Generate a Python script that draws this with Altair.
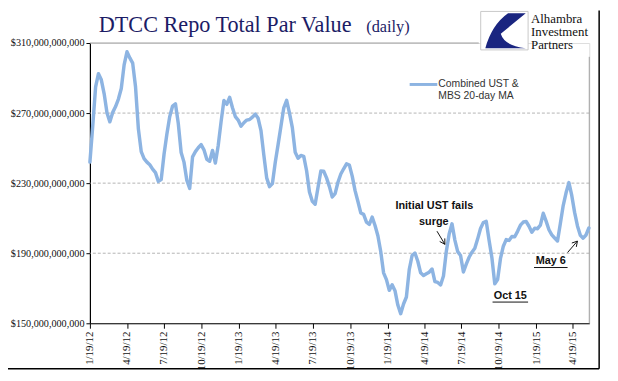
import math
import altair as alt
import pandas as pd

# ---------------- data ----------------
start_date = "2012-01-19"          # first weekly reading
values_bn = [
    242, 262.8, 285, 292.5, 289, 281, 270, 265, 270.4, 273.7,
    278, 284, 297.5, 305, 301.5, 298.5, 285, 261, 248, 244,
    242, 240.5, 238, 236, 231, 232, 246.5, 258, 268, 274,
    275.3, 264, 247.5, 242, 231.5, 227, 245, 248, 250.2, 252,
    249, 243.6, 242.5, 248.7, 241.5, 251.5, 265, 277.2, 275, 279,
    273, 268, 266, 262.5, 264.5, 266, 266.3, 267.7, 269.4, 267,
    260, 246, 233, 228, 229.7, 241.8, 252, 262.5, 273, 277.3,
    270, 261.7, 247.6, 244.2, 245.8, 245.3, 237.1, 225, 219.6, 218,
    227.5, 236.9, 236.8, 233, 228, 222.1, 224, 230.5, 235.2, 238.2,
    241, 240.3, 234, 225.7, 219.5, 213, 212.2, 207.8, 206.5, 210.6,
    205.8, 200, 191, 178.8, 174.9, 168.8, 172, 168.6, 160.4, 155.5,
    161, 165, 180.6, 188.7, 190.1, 185.4, 178.8, 177.3, 178.3, 179.2,
    181, 173.8, 173.3, 171.9, 177, 191, 201, 206.8, 197.5, 190.9,
    188.7, 179.3, 183.8, 187.7, 190.6, 192.8, 198.2, 204.1, 207.5, 208.2,
    197.4, 187.3, 172.5, 175, 187, 194, 197.8, 197.3, 199.5, 199.4,
    202.5, 206, 207.8, 208.1, 205.4, 202, 204.3, 204, 206, 212.8,
    208.3, 203.4, 200.5, 198.7, 197, 207, 217.2, 224.5, 230.3, 223,
    213.3, 205.6, 200.2, 198.6, 200.4, 204.4,
]
tick_labels = ["1/19/12", "4/19/12", "7/19/12", "10/19/12", "1/19/13", "4/19/13",
               "7/19/13", "10/19/13", "1/19/14", "4/19/14", "7/19/14", "10/19/14",
               "1/19/15", "4/19/15"]
y_ticks = [150, 190, 230, 270, 310]
grid_values = [190, 230, 270]
x_domain = ["2012-01-19", "2015-05-29"]

title_main = "DTCC Repo Total Par Value"
title_sub = "(daily)"
legend_lines = ["Combined UST &", "MBS 20-day MA"]
logo_lines = ["Alhambra", "Investment", "Partners"]

# ---------------- tables ----------------
dates = pd.date_range(start_date, periods=len(values_bn), freq="7D")
df = pd.DataFrame({"date": dates.strftime("%Y-%m-%d"), "value": values_bn})


def dt(d):
    d = pd.Timestamp(d)
    return alt.DateTime(year=d.year, month=d.month, date=d.day, utc=True)


tick_dt = [dt(pd.to_datetime(t, format="%m/%d/%y")) for t in tick_labels]
grid_df = pd.DataFrame({"v": grid_values})
one = pd.DataFrame({"k": [0]})

W, H = 506, 284
LINE = "#8DB4E2"
NAVY = "#1c1c66"
SERIF = "Liberation Serif"
SANS = "Liberation Sans"

x_enc = alt.X("date:T", title=None,
              scale=alt.Scale(type="utc", domain=[dt(x_domain[0]), dt(x_domain[1])]),
              axis=alt.Axis(values=tick_dt,
                            labelExpr="utcFormat(datum.value, '%-m/%d/%y')",
                            labelAngle=270, labelAlign="right", labelBaseline="middle",
                            labelFont=SERIF, labelFontSize=11, labelColor="#111",
                            labelPadding=3, tickSize=5, tickColor="#000",
                            domainColor="#000", domainWidth=1.2, grid=False,
                            labelOverlap=False))
y_enc = alt.Y("value:Q", title=None,
              scale=alt.Scale(domain=[150, 310], nice=False, zero=False),
              axis=alt.Axis(values=y_ticks,
                            labelExpr="'$' + format(datum.value * 1e9, ',.0f')",
                            labelFont=SERIF, labelFontSize=10.3, labelColor="#111",
                            labelPadding=2, tickSize=4, tickColor="#000",
                            domainColor="#000", domainWidth=1.2, grid=False))

line = alt.Chart(df).mark_line(color=LINE, strokeWidth=3.5, strokeJoin="round",
                               strokeCap="round").encode(x=x_enc, y=y_enc)

grid = alt.Chart(grid_df).mark_rule(color="#a0a0a0", strokeDash=[3, 2], strokeWidth=0.8).encode(
    y=alt.Y("v:Q", title=None))

top_rule = alt.Chart(one).mark_rule(color="#a0a0a0", strokeWidth=1).encode(
    x=alt.value(0), x2=alt.value(394), y=alt.value(0))
right_rule = alt.Chart(one).mark_rule(color="#a0a0a0", strokeWidth=1).encode(
    x=alt.value(W), y=alt.value(14), y2=alt.value(H))


def text_layer(txt, x, y, size, font=SANS, color="#111", weight="normal", align="left",
               baseline="alphabetic"):
    return alt.Chart(one).mark_text(text=txt, font=font, fontSize=size, color=color,
                                    fontWeight=weight, align=align,
                                    baseline=baseline).encode(x=alt.value(x), y=alt.value(y))


def seg(x1, y1, x2, y2, color="#111", width=1.0):
    return alt.Chart(one).mark_rule(color=color, strokeWidth=width).encode(
        x=alt.value(x1), y=alt.value(y1), x2=alt.value(x2), y2=alt.value(y2))


def arrow(x1, y1, x2, y2, head=6):
    ang = math.atan2(y2 - y1, x2 - x1)
    parts = [seg(x1, y1, x2, y2)]
    for da in (math.radians(30), -math.radians(30)):
        a = ang + math.pi + da
        parts.append(seg(x2, y2, x2 + head * math.cos(a), y2 + head * math.sin(a)))
    return parts


layers = [grid, top_rule, right_rule, line]

# title
layers.append(text_layer(title_main, 9, -11, 22.5, font=SERIF, color=NAVY))
layers.append(text_layer(title_sub, 280, -11, 16.5, font=SERIF, color=NAVY))

# logo
layers.append(alt.Chart(one).mark_rect(fill="white", stroke="#c8c8c8", strokeWidth=1).encode(
    x=alt.value(396), x2=alt.value(444), y=alt.value(-32), y2=alt.value(7)))
logo_path = ("M0.16,-0.77 L0.94,-0.77 L-0.16,0.14 Q0,0.67 0.94,0.77 "
             "L-0.84,0.77 Q-0.56,-0.26 0.16,-0.77 Z")
layers.append(alt.Chart(one).mark_point(shape=logo_path, filled=True, size=46 * 46,
                                        color="#1a2580", opacity=1, strokeWidth=0).encode(
    x=alt.value(420), y=alt.value(-12.5)))
for i, t in enumerate(logo_lines):
    layers.append(text_layer(t, 447, -20 + 13 * i, 13, font=SERIF, color="#111"))

# legend
layers.append(seg(324, 42, 352, 42, color=LINE, width=3))
for i, t in enumerate(legend_lines):
    layers.append(text_layer(t, 353, 42 + 12 * i, 10.5, color="#333", baseline="middle"))

# annotations
layers.append(text_layer("Initial  UST fails", 349, 165.5, 11, weight="bold",
                         align="center", baseline="middle"))
layers.append(text_layer("surge", 348.5, 181, 11, weight="bold", align="center",
                         baseline="middle"))
layers += arrow(351.7, 190.7, 359.7, 204)
layers.append(text_layer("Oct 15", 426, 256, 11, weight="bold", align="center",
                         baseline="middle"))
layers.append(seg(408, 262.5, 444, 262.5, width=1))
layers.append(text_layer("May  6", 467, 221, 11, weight="bold", align="center",
                         baseline="middle"))
layers.append(seg(450, 227.5, 484, 227.5, width=1))
layers += arrow(484, 212.3, 494, 200.7)

# outer frame (right and bottom edges)
layers.append(seg(516, -33, 516, 330, color="#000", width=1.5))
layers.append(seg(-83, 330, 516, 330, color="#000", width=1.5))

chart = alt.layer(*layers).properties(
    width=W, height=H,
    padding={"left": 83, "top": 33, "right": 21, "bottom": 56},
    autosize=alt.AutoSizeParams(type="none"),
).configure_view(stroke=None).configure(background="white")

chart.save("out.html", embed_options={"renderer": "svg", "actions": False})
